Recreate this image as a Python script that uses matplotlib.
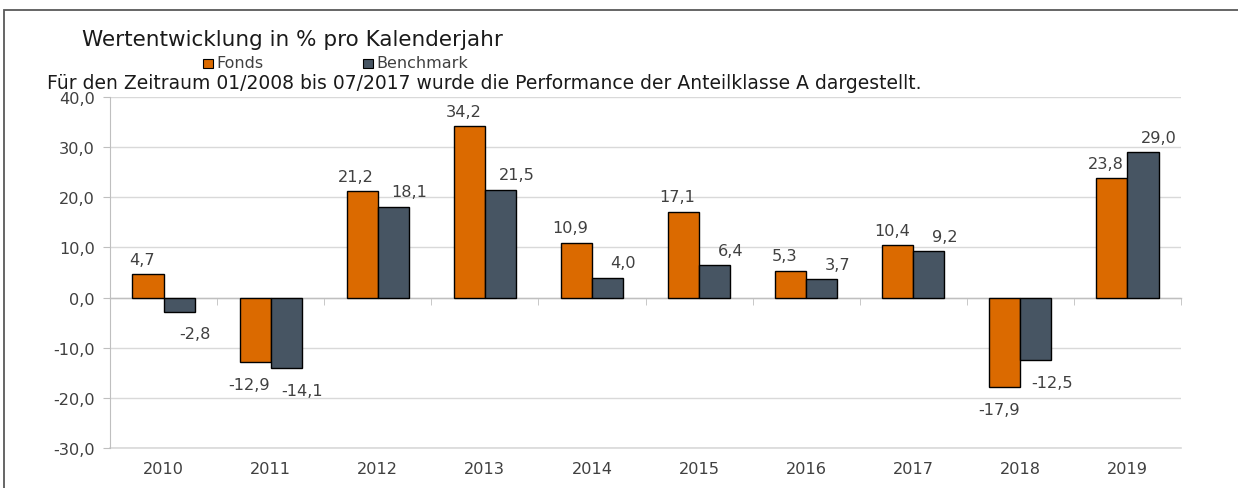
import matplotlib
matplotlib.use("Agg")
import matplotlib.pyplot as plt
import matplotlib.patches as mpatches
import matplotlib.transforms as mtransforms
import numpy as np

plt.rcParams['font.family'] = 'sans-serif'
plt.rcParams['font.sans-serif'] = ['DejaVu Sans']

years = ["2010", "2011", "2012", "2013", "2014", "2015", "2016", "2017", "2018", "2019"]
fonds = [4.7, -12.9, 21.2, 34.2, 10.9, 17.1, 5.3, 10.4, -17.9, 23.8]
benchmark = [-2.8, -14.1, 18.1, 21.5, 4.0, 6.4, 3.7, 9.2, -12.5, 29.0]
y_ticks = [-30, -20, -10, 0, 10, 20, 30, 40]
series_names = ["Fonds", "Benchmark"]

c_fonds = "#DB6A00"
c_bench = "#475563"
txt = "#404040"
fs = 11.6

W, H = 1238, 489
fig = plt.figure(figsize=(W / 100, H / 100), dpi=100)
ax = fig.add_axes([110 / W, 1 - 449 / H, (1181 - 110) / W, (449 - 98) / H])

x = np.arange(len(years))
bw = 0.29
b1 = ax.bar(x - bw / 2, fonds, bw, color=c_fonds, edgecolor="black", linewidth=1.0, zorder=3)
b2 = ax.bar(x + bw / 2, benchmark, bw, color=c_bench, edgecolor="black", linewidth=1.0, zorder=3)

ax.set_xlim(-0.5, len(years) - 0.5)
ax.set_ylim(-30, 40)
ax.set_yticks(y_ticks)
ax.set_yticklabels([f"{v:.1f}".replace(".", ",") for v in y_ticks], color=txt, fontsize=fs)
ax.yaxis.grid(True, color="#D9D9D9", linewidth=1.0, zorder=0)
ax.axhline(-30, color="#D9D9D9", linewidth=1.2, clip_on=False, zorder=0)
ax.set_axisbelow(True)
ax.tick_params(axis="y", length=5, color="#BFBFBF", pad=6)

for s in ["top", "right"]:
    ax.spines[s].set_visible(False)
ax.spines["left"].set_color("#BFBFBF")
ax.spines["bottom"].set_position(("data", 0))
ax.spines["bottom"].set_color("#BFBFBF")
ax.spines["bottom"].set_linewidth(1.0)

ax.set_xticks(x)
ax.set_xticklabels([])
ax.tick_params(axis="x", which="major", length=0)
ax.set_xticks(np.arange(len(years) + 1) - 0.5, minor=True)
ax.tick_params(axis="x", which="minor", length=5, color="#BFBFBF", direction="out")

trans = mtransforms.blended_transform_factory(ax.transData, ax.transAxes)
for xi, yr in zip(x, years):
    ax.text(xi, -0.057, yr, transform=trans, ha="center", va="center", color=txt, fontsize=fs)

def fmt(v):
    return f"{v:.1f}".replace(".", ",")

for bars, vals, dx in [(b1, fonds, -6), (b2, benchmark, 16)]:
    for r, v in zip(bars, vals):
        cx = r.get_x() + r.get_width() / 2
        dy = 15 if v >= 0 else -22
        ax.annotate(fmt(v), (cx, v), xytext=(dx * 0.72, dy * 0.72), textcoords="offset points",
                    ha="center", va="center", color=txt, fontsize=fs, annotation_clip=False)

# title & subtitle
fig.text(82 / W, 1 - 40 / H, "Wertentwicklung in % pro Kalenderjahr", fontsize=15.5,
         ha="left", va="center", color="#1a1a1a")
fig.text(47 / W, 1 - 83.5 / H,
         "Für den Zeitraum 01/2008 bis 07/2017 wurde die Performance der Anteilklasse A dargestellt.",
         fontsize=13.5, ha="left", va="center", color="#1a1a1a")

# legend (manual)
for (sx, tx), name, col in zip([(203, 216), (363, 376)], series_names, [c_fonds, c_bench]):
    fig.patches.append(mpatches.Rectangle((sx / W, 1 - 69 / H), 10 / W, 9 / H, transform=fig.transFigure,
                                          facecolor=col, edgecolor="black", linewidth=0.8))
    fig.text(tx / W, 1 - 64 / H, name, fontsize=11.5, ha="left", va="center", color=txt)

# outer frame
fig.patches.append(mpatches.Rectangle((4 / W, -0.1), 1.2, (1 - 11 / H) + 0.1, transform=fig.transFigure,
                                      fill=False, edgecolor="#595959", linewidth=1.3))

fig.savefig("out.png", dpi=100)
